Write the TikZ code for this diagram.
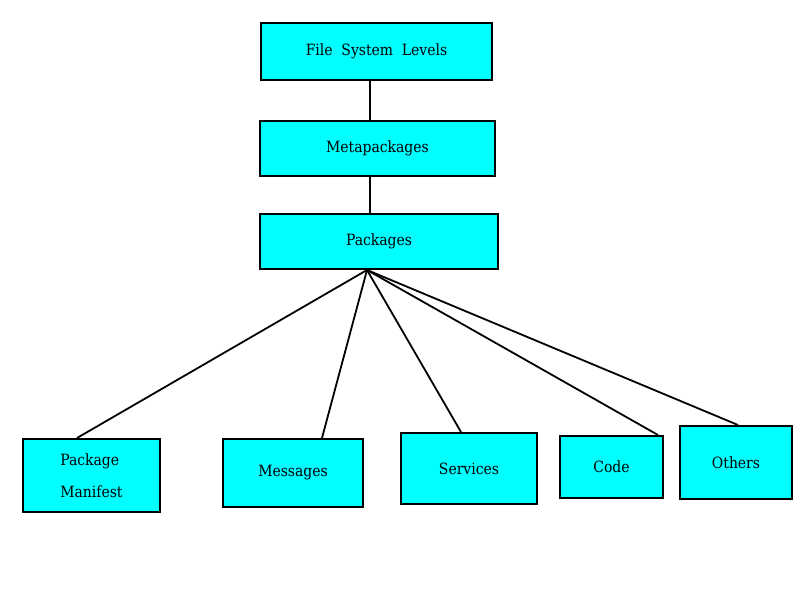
\documentclass[tikz,border=0pt]{standalone}
\usepackage{fontspec}
\setmainfont{DejaVu Serif Condensed}
\usetikzlibrary{positioning}
\definecolor{boxfill}{RGB}{0, 255, 255}

\begin{document}
\begin{tikzpicture}[x=1pt, y=-1pt,
        level/.style={rectangle, draw=black, line width=2pt, fill=boxfill, inner sep=0pt, text centered, font=\fontsize{15.5}{32}\selectfont, minimum width=#1},
        link/.style={line width=1.8pt, black}
    ]
    \useasboundingbox (0,0) rectangle (800,600);

        \node (fsl) [level=231pt, minimum height=57pt] at (376.5,51.5) {File\ \ System\ \ Levels};
        \node (meta) [level=235pt, minimum height=55pt] at (377.5,148.5) {Metapackages};
        \node (pkg) [level=238pt, minimum height=55pt] at (379,241.5) {Packages};

        \node (manifest) [level=137pt, minimum height=73pt, align=left] at (91.5,475.5) {Package\\Manifest};
        \node (msgs) [level=140pt, minimum height=68pt] at (293,473) {Messages};
        \node (srv) [level=136pt, minimum height=71pt] at (469,468.5) {Services};
        \node (code) [level=103pt, minimum height=62pt] at (611.5,467) {Code};
        \node (others) [level=112pt, minimum height=73pt] at (736,462.5) {Others};

        \draw[link] ([xshift=-6.5pt]fsl.south) -- ([xshift=-7.5pt]meta.north);
        \draw[link] ([xshift=-7.5pt]meta.south) -- ([xshift=-9pt]pkg.north);

        \coordinate (hub) at ([xshift=-12pt]pkg.south);
        \draw[link] (hub) -- ([xshift=-14.5pt]manifest.north);
        \draw[link] (hub) -- ([xshift=29pt]msgs.north);
        \draw[link] (hub) -- ([xshift=-8pt]srv.north);
        \draw[link] (hub) -- ([xshift=46.5pt]code.north);
        \draw[link] (hub) -- ([xshift=2pt]others.north);
    \end{tikzpicture}
\end{document}
